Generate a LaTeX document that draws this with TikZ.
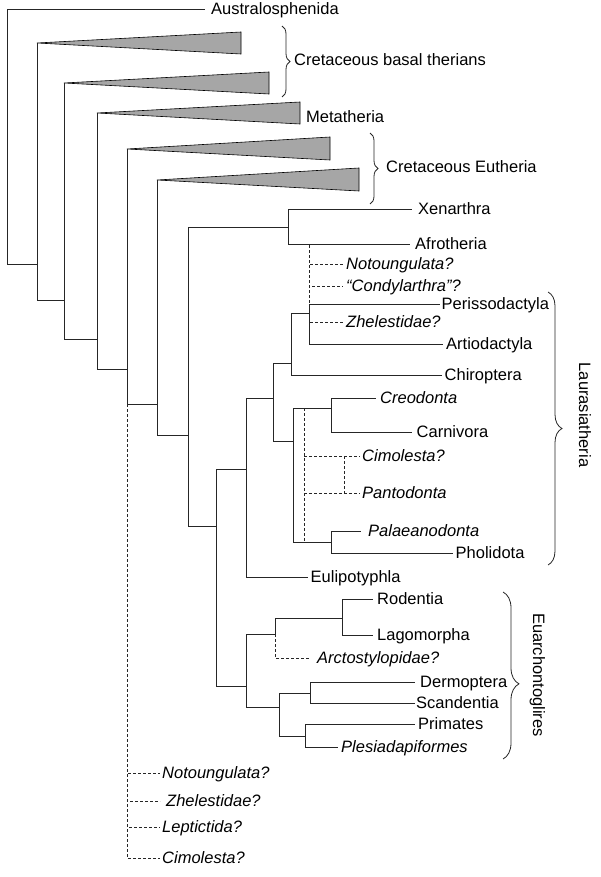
\documentclass[tikz,border=0pt]{standalone}
\usepackage{fontspec}
\setmainfont{Liberation Sans}
\usetikzlibrary{decorations.pathreplacing}

\begin{document}
\begin{tikzpicture}[
  x=1pt, y=-1pt,
  br/.style={line width=0.8pt, draw=black!85},
  dsh/.style={br, dash pattern=on 3pt off 2pt},
  clade/.style={draw=black, line width=0.6pt, fill=black!35},
  leaf/.style={anchor=west, inner xsep=3pt, inner ysep=0pt, text height=11.8pt,
               text depth=0pt, font=\fontsize{16.5}{18}\selectfont},
  fos/.style={leaf, font=\fontsize{16.5}{18}\selectfont\itshape},
  grp/.style={leaf, inner xsep=0pt},
  brc/.style={br, decorate, decoration={brace, amplitude=#1}},
  brc/.default=8pt
]
\useasboundingbox (0,0) rectangle (600,877);

% internal nodes
\coordinate (r0) at (7,136);
\coordinate (r1) at (37,264);
\coordinate (r2) at (64,300);
\coordinate (r3) at (97,339);
\coordinate (r4) at (127,369);
\coordinate (r5) at (157,404);
\coordinate (r6) at (188,435);
\coordinate (xa) at (288,227);
\coordinate (bor) at (216,526);
\coordinate (lau) at (246,469);
\coordinate (fer) at (273,398);
\coordinate (sco) at (291,363);
\coordinate (ung) at (309,313);
\coordinate (car) at (293,441);
\coordinate (cre) at (331,408);
\coordinate (pho) at (331,542);
\coordinate (pol) at (304,475);
\coordinate (cpj) at (344,475);
\coordinate (euar) at (246,686);
\coordinate (gli) at (275,634);
\coordinate (rod) at (342,618);
\coordinate (pri) at (279,707);
\coordinate (der) at (310,693);
\coordinate (ple) at (305,736);

% collapsed clades
\coordinate (t1) at (37,43);
\coordinate (t2) at (64,83);
\coordinate (t3) at (97,113);
\coordinate (t4) at (127,149);
\coordinate (t5) at (157,180);
\draw[clade] (t1) -- ++(204,-11) -- ++(0,22) -- cycle;
\draw[clade] (t2) -- ++(205,-11) -- ++(0,22) -- cycle;
\draw[clade] (t3) -- ++(203,-11) -- ++(0,22) -- cycle;
\draw[clade] (t4) -- ++(203,-12) -- ++(0,23) -- cycle;
\draw[clade] (t5) -- ++(202,-12) -- ++(0,23) -- cycle;

% taxa
\node[leaf, inner xsep=6pt] (aus) at (205,9) {Australosphenida};
\node[leaf, inner xsep=6pt] (xen) at (412,209) {Xenarthra};
\node[leaf, inner xsep=5pt] (afr) at (410,244) {Afrotheria};
\node[fos] (not1) at (343,264) {Notoungulata?};
\node[fos] (con) at (343,286) {“Condylarthra”?};
\node[leaf, inner xsep=1.5pt] (per) at (440,304) {Perissodactyla};
\node[fos] (zhe1) at (343,322) {Zhelestidae?};
\node[leaf] (art) at (443,344) {Artiodactyla};
\node[leaf, inner xsep=2.5pt] (chi) at (442,375) {Chiroptera};
\node[fos, inner xsep=4pt] (creo) at (376,398) {Creodonta};
\node[leaf, inner xsep=4.5pt] (carn) at (412,432) {Carnivora};
\node[fos, inner xsep=2pt] (cim1) at (360,456) {Cimolesta?};
\node[fos, inner xsep=2pt] (pan) at (360,493) {Pantodonta};
\node[fos, inner xsep=7pt] (pal) at (361,531) {Palaeanodonta};
\node[leaf, inner xsep=2.5pt] (phol) at (453,553) {Pholidota};
\node[leaf, inner xsep=2.5pt] (eul) at (308,577) {Eulipotyphla};
\node[leaf, inner xsep=4pt] (rodn) at (373,599) {Rodentia};
\node[leaf, inner xsep=4pt] (lag) at (373,635) {Lagomorpha};
\node[fos, inner xsep=7pt] (arc) at (310,658) {Arctostylopidae?};
\node[leaf, inner xsep=5pt] (derm) at (415,682) {Dermoptera};
\node[leaf, inner xsep=1pt] (scan) at (415,703) {Scandentia};
\node[leaf, inner xsep=3pt] (prim) at (415,724) {Primates};
\node[fos] (ples) at (338,747) {Plesiadapiformes};
\node[fos, inner xsep=2pt] (not2) at (160,773) {Notoungulata?};
\node[fos, inner xsep=6pt] (zhe2) at (160,801) {Zhelestidae?};
\node[fos, inner xsep=2pt] (lep) at (160,827) {Leptictida?};
\node[fos, inner xsep=2pt] (cim2) at (160,858) {Cimolesta?};

% uncertain placements
\draw[dsh] (ung) -- (ung |- afr.west) (ung) |- (not1.west) (ung) |- (con.west)
  (ung) |- (zhe1.west);
\draw[dsh] (pol |- cre) -- (pol |- pho) (pol |- cim1.west) -- (cim1.west)
  (pol |- pan.west) -- (pan.west) (cpj |- cim1.west) -- (cpj |- pan.west);
\draw[dsh] (gli) |- (arc.west);
\draw[dsh] (r4) |- (not2.west) (r4) |- (zhe2.west) (r4) |- (lep.west)
  (r4) |- (cim2.west);

% branches
\draw[br] (r0) |- (aus.west) (r0) |- (r1);
\draw[br] (r1) |- (t1) (r1) |- (r2);
\draw[br] (r2) |- (t2) (r2) |- (r3);
\draw[br] (r3) |- (t3) (r3) |- (r4);
\draw[br] (r4) |- (t4) (r4) |- (r5);
\draw[br] (r5) |- (t5) (r5) |- (r6);
\draw[br] (r6) |- (xa) (r6) |- (bor);
\draw[br] (xa) |- (xen.west) (xa) |- (afr.west);
\draw[br] (bor) |- (lau) (bor) |- (euar);
\draw[br] (lau) |- (fer) (lau) |- (eul.west);
\draw[br] (fer) |- (sco) (fer) |- (car);
\draw[br] (sco) |- (ung) (sco) |- (chi.west);
\draw[br] (ung) |- (per.west) (ung) |- (art.west);
\draw[br] (car) |- (cre) (car) |- (pho);
\draw[br] (cre) |- (creo.west) (cre) |- (carn.west);
\draw[br] (pho) |- (pal.west) (pho) |- (phol.west);
\draw[br] (euar) |- (gli) (euar) |- (pri);
\draw[br] (gli) |- (rod);
\draw[br] (rod) |- (rodn.west) (rod) |- (lag.west);
\draw[br] (pri) |- (der) (pri) |- (ple);
\draw[br] (der) |- (derm.west) (der) |- (scan.west);
\draw[br] (ple) |- (prim.west) (ple) |- (ples.west);

% groups
\draw[brc] (282,26) -- (282,97);
\node[grp] (cbt) at (294,60) {Cretaceous basal therians};
\node[grp, inner xsep=0pt] (met) at (306,117) {Metatheria};
\draw[brc] (370,133) -- (370,204);
\node[grp] (cet) at (386,167) {Cretaceous Eutheria};
\draw[brc=14pt] (548,292) -- (548,565);
\node[grp, rotate=-90, anchor=center] (laur) at (585,415) {Laurasiatheria};
\draw[brc=16pt, decoration={aspect=0.55}] (503,592) -- (503,759);
\node[grp, rotate=-90, anchor=center] (euarl) at (539,675) {Euarchontoglires};
\end{tikzpicture}
\end{document}
